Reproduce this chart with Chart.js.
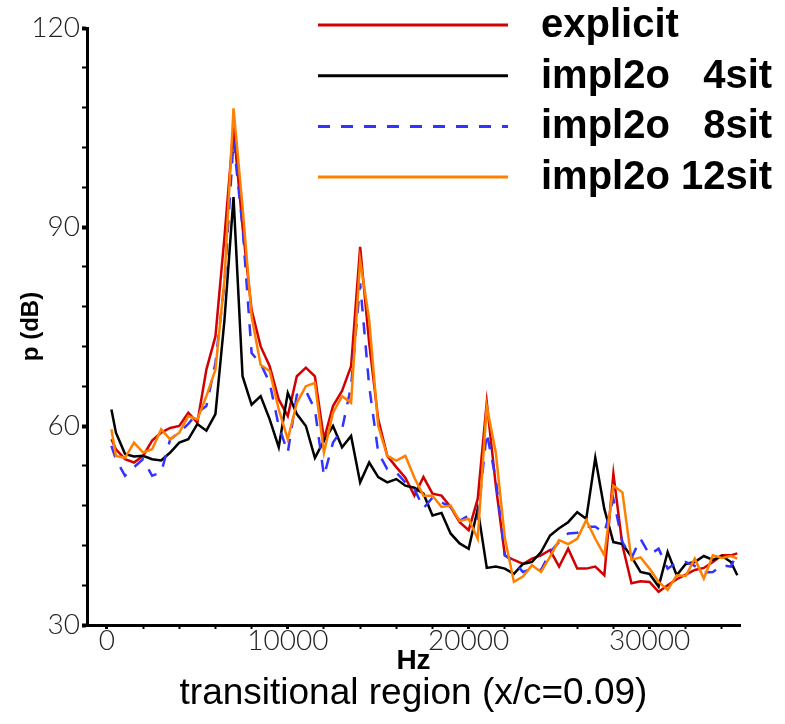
<!DOCTYPE html>
<html>
<head>
<meta charset="utf-8">
<script src="https://cdn.jsdelivr.net/npm/chart.js@4.4.1/dist/chart.umd.min.js"></script>
<style>
  html, body { margin: 0; padding: 0; background: #fff; }
</style>
</head>
<body>
<canvas id="myChart" width="785" height="724"></canvas>
<script>
// spectrum frequencies (Hz)
var freq = [250, 500, 1000, 1500, 2000, 2500, 3000, 3500, 4000, 4500,
    5000, 5500, 6000, 6500, 7000, 7500, 8000, 8500, 9000, 9500,
    10000, 10500, 11000, 11500, 12000, 12500, 13000, 13500, 14000, 14500,
    15000, 15500, 16000, 16500, 17000, 17500, 18000, 18500, 19000, 19500,
    20000, 20500, 21000, 21500, 22000, 22500, 23000, 23500, 24000, 24500,
    25000, 25500, 26000, 26500, 27000, 27500, 28000, 28500, 29000, 29500,
    30000, 30500, 31000, 31500, 32000, 32500, 33000, 33500, 34000, 34500, 34850];

// sound pressure level p (dB) per scheme
var explicitDb = [58, 56.5, 55, 54.5, 55.5, 57.8, 59, 59.7, 60, 62,
    60.5, 68.5, 73.5, 88.5, 105, 90, 77.5, 72, 69, 64,
    61.5, 67.5, 68.8, 67.5, 58, 63, 65.3, 69, 87, 72.5,
    61, 55.5, 53.8, 52.2, 49.5, 52.3, 49.8, 49.5, 47.8, 45.5,
    44.3, 49, 63.6, 51, 40.5, 39.8, 39.2, 40, 40.5, 41.3,
    38.8, 41.5, 38.5, 38.5, 38.8, 37.5, 52.8, 42, 36.3, 36.6,
    36.5, 35, 36, 36.9, 37.6, 38.3, 38.6, 39.5, 40.5, 40.5, 40.8];

var impl4Db = [62.5, 59, 55.8, 55.4, 55.5, 55, 54.8, 56, 57.5, 58,
    60.3, 59.3, 61.8, 76, 94.5, 67.5, 63.2, 64.5, 61, 56.8,
    65, 61.8, 60, 55.2, 57.8, 60, 56.8, 58.5, 51.5, 54.5,
    52.3, 51.5, 52, 51, 50.7, 49.8, 46.5, 46.9, 43.8, 42.3,
    41.5, 47.5, 38.6, 38.8, 38.5, 37.7, 39.2, 39.5, 41, 43.5,
    44.6, 45.5, 47, 46, 55.2, 47.5, 42.5, 42.2, 40.3, 38,
    37.7, 35.8, 41, 37.5, 39.2, 39.5, 40.4, 39.8, 40.4, 39.5, 37.5];

var impl8Db = [57, 55, 52.5, 53.8, 55, 52.5, 53, 58, 59, 60.3,
    62, 63, 69.5, 81.5, 103, 90, 71, 69.4, 66.5, 60,
    56, 64.7, 65.3, 62.5, 52.5, 57.5, 59.5, 66, 81.5, 66,
    56, 53.5, 53, 51.5, 50.5, 47.6, 49.2, 48.5, 47.8, 45.7,
    46.5, 46, 59, 52, 40.5, 39.5, 38, 38.5, 38.3, 41,
    42.5, 43.8, 43.9, 44.8, 44.8, 43.9, 49, 42.5, 40.1, 43,
    40.6, 41.5, 38.5, 39.4, 39.5, 38.9, 37.9, 38, 39, 38.8, 41];

var impl12Db = [59.5, 55.5, 55.2, 57.5, 56, 56.5, 59.5, 58, 59, 61.5,
    61, 64.5, 68.5, 82, 107.9, 93, 76.5, 69.2, 68.3, 62.5,
    58, 63.5, 66, 66.5, 56, 62, 64.5, 63.5, 85, 76,
    60, 55.5, 54.8, 55.5, 52.2, 49.5, 49.5, 47.8, 48, 45.7,
    46, 43, 63, 56, 43.1, 36.5, 37.3, 39, 38, 40.3,
    42.8, 42.2, 43, 45.8, 43, 40.5, 51, 50, 39.8, 40.2,
    38.5, 36.5, 35.3, 37.5, 37.4, 40, 37, 40.5, 40.1, 40.4, 40];

// axis ticks
var xTicks = [0, 2000, 4000, 6000, 8000, 10000, 12000, 14000, 16000, 18000,
    20000, 22000, 24000, 26000, 28000, 30000, 32000, 34000];
var yTicks = [30, 36, 42, 48, 54, 60, 66, 72, 78, 84, 90, 96, 102, 108, 114, 120];

function points(values) {
    return freq.map(function (f, i) { return { x: f, y: values[i] }; });
}

// legend drawn as long line samples with big bold labels
var curveLegend = {
    id: 'curveLegend',
    afterDraw: function (chart) {
        var ctx = chart.ctx;
        ctx.save();
        chart.data.datasets.forEach(function (ds, i) {
            var y = 25 + i * 50.7;
            ctx.strokeStyle = ds.borderColor;
            ctx.lineWidth = 3;
            ctx.setLineDash(ds.borderDash || []);
            ctx.beginPath();
            ctx.moveTo(318, y);
            ctx.lineTo(508, y);
            ctx.stroke();
            ctx.setLineDash([]);
            ctx.fillStyle = '#000';
            ctx.font = 'bold 40px "Liberation Sans", Arial, sans-serif';
            ctx.textBaseline = 'alphabetic';
            ctx.textAlign = 'left';
            ctx.fillText(ds.label, 541, y + 12);
        });
        ctx.restore();
    }
};

var tickFont = { family: 'Lato, "Liberation Sans", sans-serif', size: 28, weight: 300 };

var ctx = document.getElementById('myChart').getContext('2d');
var myChart = new Chart(ctx, {
    type: 'line',
    data: {
        datasets: [
            { label: 'explicit', data: points(explicitDb), borderColor: 'rgb(210, 0, 0)', order: 4 },
            { label: 'impl2o   4sit', data: points(impl4Db), borderColor: '#000000', order: 3 },
            { label: 'impl2o   8sit', data: points(impl8Db), borderColor: 'rgb(51, 51, 255)', borderDash: [12, 11], order: 2 },
            { label: 'impl2o 12sit', data: points(impl12Db), borderColor: 'rgb(255, 128, 0)', order: 1 }
        ]
    },
    options: {
        responsive: false,
        animation: false,
        layout: { autoPadding: false, padding: { left: 0, top: 28, right: 45, bottom: 0 } },
        elements: {
            line: { borderWidth: 2.5, tension: 0, fill: false },
            point: { radius: 0 }
        },
        scales: {
            x: {
                type: 'linear',
                min: -1100,
                max: 35000,
                afterBuildTicks: function (scale) {
                    scale.ticks = xTicks.map(function (v) { return { value: v }; });
                },
                afterFit: function (scale) { scale.height = 50; },
                ticks: {
                    autoSkip: false,
                    maxRotation: 0,
                    padding: -5,
                    color: '#222',
                    font: tickFont,
                    callback: function (v) { return v % 10000 === 0 ? String(v) : ''; }
                },
                grid: {
                    drawOnChartArea: false,
                    drawTicks: true,
                    tickLength: 4,
                    tickColor: '#000',
                    tickWidth: function (c) { return c.tick && c.tick.value % 10000 === 0 ? 3 : 2; }
                },
                border: { display: true, color: '#000', width: 3 },
                title: {
                    display: true,
                    text: 'Hz',
                    color: '#000',
                    font: { family: '"Liberation Sans", Arial, sans-serif', size: 28, weight: 'bold', lineHeight: 1 },
                    padding: { top: 0, bottom: 0 }
                }
            },
            y: {
                min: 30,
                max: 120,
                afterBuildTicks: function (scale) {
                    scale.ticks = yTicks.map(function (v) { return { value: v }; });
                },
                afterFit: function (scale) { scale.width = 87; },
                ticks: {
                    autoSkip: false,
                    padding: 2,
                    color: '#222',
                    font: tickFont,
                    callback: function (v) { return v % 30 === 0 ? String(v) : ''; }
                },
                grid: {
                    drawOnChartArea: false,
                    drawTicks: true,
                    tickLength: 5,
                    tickColor: '#000',
                    tickWidth: function (c) { return c.tick && c.tick.value % 30 === 0 ? 4 : 2; }
                },
                border: { display: true, color: '#000', width: 3 },
                title: {
                    display: true,
                    text: 'p (dB)',
                    color: '#000',
                    font: { family: '"Liberation Sans", Arial, sans-serif', size: 24, weight: 'bold', lineHeight: 1 },
                    padding: { top: 19, bottom: 0 }
                }
            }
        },
        plugins: {
            legend: { display: false },
            tooltip: { enabled: false },
            title: {
                display: true,
                position: 'bottom',
                fullSize: false,
                text: 'transitional region (x/c=0.09)',
                color: '#000',
                font: { family: '"Liberation Sans", Arial, sans-serif', size: 37, weight: 'normal', lineHeight: 1 },
                padding: { top: 0, bottom: 12 }
            }
        }
    },
    plugins: [curveLegend]
});
</script>
</body>
</html>
